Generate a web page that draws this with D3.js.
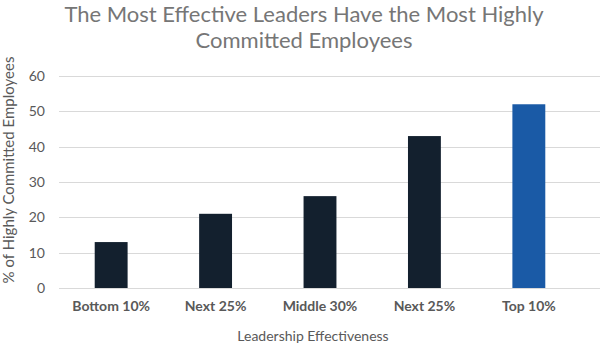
<!DOCTYPE html>
<html>
<head>
<meta charset="utf-8">
<script src="https://cdn.jsdelivr.net/npm/d3@7"></script>
<style>
  body { margin: 0; background: #fff; }
  text { font-family: Lato, "Open Sans", sans-serif; }
</style>
</head>
<body>
<div id="chart"></div>
<script>
// leadership tiers and share of highly committed employees (%)
var categories = ["Bottom 10%", "Next 25%", "Middle 30%", "Next 25%", "Top 10%"];
var values = [13, 21, 26, 43, 52];
var barColors = ["#13202e", "#13202e", "#13202e", "#13202e", "#1a5aa6"];
var yTicks = [0, 10, 20, 30, 40, 50, 60];
var titleLines = ["The Most Effective Leaders Have the Most Highly", "Committed Employees"];

var width = 600, height = 347;
var margin = {top: 76, right: 19, bottom: 59, left: 59};

var svg = d3.select("#chart").append("svg")
  .attr("width", width).attr("height", height);

// band index -> x, so repeated labels stay separate
var x = d3.scaleBand()
  .domain(d3.range(categories.length))
  .range([margin.left, width - margin.right])
  .paddingInner(0.685).paddingOuter(0.342);

var y = d3.scaleLinear()
  .domain([0, 60])
  .range([height - margin.bottom, margin.top]);

// gridlines
svg.append("g")
  .selectAll("line")
  .data(yTicks).enter()
  .append("line")
  .attr("x1", margin.left)
  .attr("x2", width)
  .attr("y1", function(d) { return Math.round(y(d)) + 0.5; })
  .attr("y2", function(d) { return Math.round(y(d)) + 0.5; })
  .attr("stroke", "#d9d9d9")
  .attr("stroke-width", 1);

// y axis labels
var yAxis = svg.append("g")
  .attr("transform", "translate(" + (margin.left - 14) + ",0)")
  .call(d3.axisLeft(y).tickValues(yTicks).tickSize(0).tickPadding(0));
yAxis.select(".domain").remove();
yAxis.selectAll("text")
  .attr("fill", "#595959")
  .style("font-size", "14px")
  .style("font-family", "Lato, sans-serif");

// bars
svg.append("g")
  .selectAll("rect")
  .data(values).enter()
  .append("rect")
  .attr("x", function(d, i) { return x(i); })
  .attr("y", function(d) { return y(d); })
  .attr("width", x.bandwidth())
  .attr("height", function(d) { return y(0) - y(d); })
  .attr("fill", function(d, i) { return barColors[i]; });

// x axis labels
var xAxis = svg.append("g")
  .attr("transform", "translate(0," + y(0) + ")")
  .call(d3.axisBottom(x).tickSize(0).tickPadding(13)
    .tickFormat(function(i) { return categories[i]; }));
xAxis.select(".domain").remove();
xAxis.selectAll("text")
  .attr("fill", "#595959")
  .style("font-size", "14px")
  .style("font-weight", "bold")
  .style("font-family", "Lato, sans-serif");

// axis titles
svg.append("text")
  .attr("x", 313)
  .attr("y", 341)
  .attr("text-anchor", "middle")
  .attr("fill", "#595959")
  .style("font-size", "14px")
  .text("Leadership Effectiveness");

svg.append("text")
  .attr("transform", "translate(14," + 170 + ") rotate(-90)")
  .attr("text-anchor", "middle")
  .attr("fill", "#595959")
  .style("font-size", "15px")
  .text("% of Highly Committed Employees");

// chart title
svg.append("g")
  .selectAll("text")
  .data(titleLines).enter()
  .append("text")
  .attr("x", 304)
  .attr("y", function(d, i) { return 22 + i * 26; })
  .attr("text-anchor", "middle")
  .attr("fill", "#767676")
  .style("font-size", "22px")
  .text(function(d) { return d; });
</script>
</body>
</html>
